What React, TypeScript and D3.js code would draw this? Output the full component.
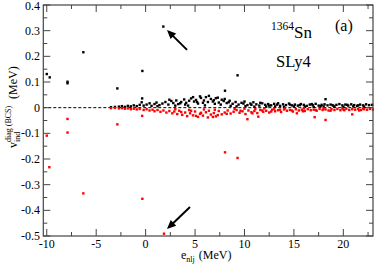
import React from "react";
import * as d3 from "d3";

const W = 374;
const H = 266;

const xTicks = [-10, -5, 0, 5, 10, 15, 20];
const yTicks = [-0.5, -0.4, -0.3, -0.2, -0.1, 0, 0.1, 0.2, 0.3, 0.4];
const xTickLabels = ["-10", "-5", "0", "5", "10", "15", "20"];
const yTickLabels = ["-0.5", "-0.4", "-0.3", "-0.2", "-0.1", "0", "0.1", "0.2", "0.3", "0.4"];

// positive (black) diagonal matrix elements
const blackPoints: [number, number][] = [
  [-10.0, 0.131], [-9.7, 0.118], [-7.9, 0.101], [-7.9, 0.095], [-6.3, 0.216],
  [-2.86, 0.075], [-0.33, 0.143], [1.79, 0.316], [9.3, 0.126], [8.03, 0.066], [18.2, 0.033],
  [-3.5, 0.002], [-3.1, 0.003], [-2.7, 0.004], [-2.4, 0.006], [-2.1, 0.003], [-1.8, 0.007],
  [-1.5, 0.005], [-1.2, 0.009], [-0.9, 0.006], [-0.6, 0.011], [-0.4, 0.021], [-0.35, 0.036],
  [-0.2, 0.008], [0.1, 0.012], [0.4, 0.017], [0.6, 0.007], [0.9, 0.014], [1.1, 0.02],
  [1.4, 0.01], [1.7, 0.016], [2.0, 0.022], [2.3, 0.012], [2.6, 0.026], [2.8, 0.018],
  [3.1, 0.028], [3.3, 0.014], [3.6, 0.022], [3.9, 0.032], [4.1, 0.019], [4.4, 0.027],
  [4.6, 0.036], [4.9, 0.024], [5.1, 0.03], [5.3, 0.016], [5.6, 0.038], [5.9, 0.028],
  [6.1, 0.041], [6.3, 0.022], [6.6, 0.034], [6.9, 0.029], [7.1, 0.037], [7.4, 0.02],
  [7.7, 0.031], [7.9, 0.026], [8.2, 0.018], [8.5, 0.027], [8.8, 0.015], [9.1, 0.022],
  [9.4, 0.012], [9.7, 0.019], [10.0, 0.024], [10.3, 0.01], [10.6, 0.016], [10.9, 0.021],
  [11.2, 0.013], [11.5, 0.008], [11.8, 0.017], [12.1, 0.011], [12.4, 0.014], [12.7, 0.009],
  [13.0, 0.015], [13.3, 0.012], [13.6, 0.007], [13.9, 0.013], [14.2, 0.01], [14.5, 0.016],
  [14.8, 0.009], [15.1, 0.012], [15.4, 0.008], [15.7, 0.014], [16.0, 0.011], [16.3, 0.007],
  [16.6, 0.012], [16.9, 0.01], [17.2, 0.015], [17.5, 0.008], [17.8, 0.011], [18.1, 0.013],
  [18.4, 0.009], [18.7, 0.012], [19.0, 0.007], [19.3, 0.011], [19.6, 0.014], [19.9, 0.009],
  [20.2, 0.012], [20.5, 0.008], [20.8, 0.013], [21.1, 0.01], [21.4, 0.007], [21.7, 0.012],
  [22.0, 0.009], [22.3, 0.013], [22.6, 0.01], [22.9, 0.011],
  [4.0, 0.012], [5.5, 0.044], [6.4, 0.046], [7.0, 0.015], [6.0, 0.009], [3.0, 0.008],
  [4.8, 0.041], [5.8, 0.019], [7.3, 0.039], [8.0, 0.034], [2.4, 0.031], [1.2, 0.006],
  [12.2, 0.004], [13.1, 0.005], [14.0, 0.003], [15.0, 0.005], [16.1, 0.004], [17.0, 0.003],
  [18.0, 0.005], [19.1, 0.004], [20.0, 0.003], [21.0, 0.005], [22.1, 0.004], [10.1, 0.006],
  [11.0, 0.004], [9.2, 0.005], [8.6, 0.007],
  [3.5, 0.017], [4.3, 0.008], [5.2, 0.022], [6.8, 0.024], [7.6, 0.012], [8.4, 0.021],
  [9.9, 0.016], [10.7, 0.011], [11.6, 0.019], [12.5, 0.008], [13.4, 0.017], [14.6, 0.012],
  [15.6, 0.01], [16.8, 0.014], [17.7, 0.006], [18.9, 0.01], [20.4, 0.011], [21.5, 0.009],
];

// negative (red) diagonal matrix elements
const redPoints: [number, number][] = [
  [-10.0, -0.109], [-9.74, -0.232], [-7.9, -0.044], [-7.9, -0.097], [-6.3, -0.334],
  [-2.86, -0.065], [-0.33, -0.355], [1.86, -0.491], [-0.35, -0.032], [8.03, -0.174],
  [9.3, -0.196], [10.3, -0.045], [11.4, -0.035], [15.3, -0.022], [17.1, -0.037],
  [18.2, -0.048], [20.9, -0.026],
  [-3.5, -0.002], [-3.1, -0.001], [-2.7, -0.003], [-2.4, -0.002], [-2.1, -0.004],
  [-1.8, -0.003], [-1.5, -0.006], [-1.2, -0.004], [-0.9, -0.007], [-0.6, -0.005],
  [-0.2, -0.009], [0.1, -0.006], [0.4, -0.011], [0.7, -0.008], [0.9, -0.014], [1.2, -0.009],
  [1.5, -0.016], [1.8, -0.011], [2.1, -0.019], [2.4, -0.013], [2.7, -0.022], [2.9, -0.015],
  [3.2, -0.025], [3.4, -0.012], [3.7, -0.028], [4.0, -0.019], [4.2, -0.033], [4.5, -0.022],
  [4.8, -0.03], [5.0, -0.015], [5.3, -0.036], [5.5, -0.024], [5.8, -0.031], [6.1, -0.018],
  [6.3, -0.038], [6.6, -0.027], [6.9, -0.021], [7.1, -0.034], [7.4, -0.013], [7.7, -0.026],
  [8.0, -0.019], [8.3, -0.011], [8.6, -0.023], [8.9, -0.016], [9.2, -0.009], [9.5, -0.02],
  [9.8, -0.014], [10.1, -0.025], [10.4, -0.011], [10.7, -0.018], [11.0, -0.013],
  [11.3, -0.021], [11.6, -0.009], [11.9, -0.016], [12.2, -0.012], [12.5, -0.019],
  [12.8, -0.008], [13.1, -0.014], [13.4, -0.01], [13.7, -0.017], [14.0, -0.007],
  [14.3, -0.012], [14.6, -0.009], [14.9, -0.015], [15.2, -0.006], [15.5, -0.011],
  [15.8, -0.008], [16.1, -0.013], [16.4, -0.006], [16.7, -0.01], [17.0, -0.008],
  [17.3, -0.012], [17.6, -0.005], [17.9, -0.009], [18.2, -0.007], [18.5, -0.011],
  [18.8, -0.006], [19.1, -0.009], [19.4, -0.005], [19.7, -0.01], [20.0, -0.007],
  [20.3, -0.004], [20.6, -0.009], [20.9, -0.006], [21.2, -0.008], [21.5, -0.005],
  [21.8, -0.009], [22.1, -0.006], [22.4, -0.008], [22.7, -0.005], [23.0, -0.007],
  [3.0, -0.006], [4.4, -0.009], [5.9, -0.007], [7.0, -0.008], [9.0, -0.005], [10.0, -0.004],
  [11.1, -0.005], [12.0, -0.003], [13.0, -0.004], [14.1, -0.003], [16.0, -0.003],
  [18.0, -0.004], [19.9, -0.003], [22.0, -0.003], [6.8, -0.036], [5.1, -0.032],
  [3.6, -0.017], [4.6, -0.012], [5.6, -0.02], [6.4, -0.012], [7.3, -0.029], [8.2, -0.024],
  [9.6, -0.012], [10.8, -0.022], [11.8, -0.011], [12.7, -0.015], [13.6, -0.008],
  [14.8, -0.011], [15.9, -0.014], [17.2, -0.009], [18.7, -0.012], [20.1, -0.01], [21.6, -0.011],
];

// arrow annotations in data coordinates: [tailX, tailY, tipX, tipY]
const arrows: [number, number, number, number][] = [
  [4.19, 0.225, 2.16, 0.303],
  [4.49, -0.387, 2.16, -0.473],
];

const FONT = "Liberation Serif, Times New Roman, DejaVu Serif, serif";
const serif = { fontFamily: FONT };

export default function App() {
  const left = 43.3, right = 373, top = 5, bottom = 236;
  const x = d3.scaleLinear().domain([-10.35, 23.0]).range([left, right]);
  const y = d3.scaleLinear().domain([-0.5, 0.4]).range([bottom, top]);

  const xMinor = d3.range(-10, 23.01, 2.5);
  const yMinor = d3.range(-0.5, 0.401, 0.05);

  const arrowHead = (x1: number, y1: number, x2: number, y2: number) => {
    const ang = Math.atan2(y2 - y1, x2 - x1);
    const len = 9, wid = 4;
    const bx = x2 - len * Math.cos(ang), by = y2 - len * Math.sin(ang);
    const px = -Math.sin(ang) * wid, py = Math.cos(ang) * wid;
    return `M${x2},${y2}L${bx + px},${by + py}L${bx - px},${by - py}Z`;
  };

  return (
    <svg width={W} height={H} style={{ position: "absolute", left: 0, top: 0, background: "#fff", fontFamily: FONT }}>
      {/* zero line */}
      <line x1={left} x2={right} y1={y(0)} y2={y(0)} stroke="#000" strokeWidth={1} strokeDasharray="3,2" />

      {/* points */}
      {blackPoints.map((p, i) => (
        <rect key={"b" + i} x={x(p[0]) - 1.2} y={y(p[1]) - 1.2} width={2.4} height={2.4} fill="#000" />
      ))}
      {redPoints.map((p, i) => (
        <rect key={"r" + i} x={x(p[0]) - 1.2} y={y(p[1]) - 1.2} width={2.4} height={2.4} fill="#ff0000" />
      ))}

      {/* frame */}
      <rect x={left} y={top} width={right - left} height={bottom - top} fill="none" stroke="#444" strokeWidth={1.2} />

      {/* ticks */}
      {xMinor.map((v, i) => {
        const major = Math.abs(v / 5 - Math.round(v / 5)) < 1e-6;
        const l = major ? 7 : 4;
        return (
          <g key={"xt" + i}>
            <line x1={x(v)} x2={x(v)} y1={bottom} y2={bottom - l} stroke="#444" strokeWidth={1} />
            <line x1={x(v)} x2={x(v)} y1={top} y2={top + l} stroke="#444" strokeWidth={1} />
          </g>
        );
      })}
      {yMinor.map((v, i) => {
        const major = Math.abs(v / 0.1 - Math.round(v / 0.1)) < 1e-6;
        const l = major ? 7 : 4;
        return (
          <g key={"yt" + i}>
            <line x1={left} x2={left + l} y1={y(v)} y2={y(v)} stroke="#444" strokeWidth={1} />
            <line x1={right} x2={right - l} y1={y(v)} y2={y(v)} stroke="#444" strokeWidth={1} />
          </g>
        );
      })}

      {/* tick labels */}
      {xTicks.map((v, i) => (
        <text key={"xl" + i} x={x(v)} y={248} fontSize={12} textAnchor="middle" style={serif}>{xTickLabels[i]}</text>
      ))}
      {yTicks.map((v, i) => (
        <text key={"yl" + i} x={40} y={Math.max(y(v) + 4, 10)} fontSize={12} textAnchor="end" style={serif}>{yTickLabels[i]}</text>
      ))}

      {/* x axis label */}
      <text x={181} y={259} fontSize={12} style={serif}>
        e<tspan fontSize={8} dy={3}>nlj</tspan><tspan dy={-3} dx={4}>(MeV)</tspan>
      </text>

      {/* y axis label */}
      <g transform="translate(17,148) rotate(-90)">
        <text x={0} y={0} fontSize={12} style={serif}>v</text>
        <text x={6} y={-6} fontSize={8} style={serif}>diag (BCS)</text>
        <text x={6} y={3} fontSize={8} style={serif}>ind</text>
        <text x={49} y={0} fontSize={12} style={serif}>(MeV)</text>
      </g>

      {/* annotations */}
      <text x={271} y={30} fontSize={11.5} style={serif}>1364</text>
      <text x={294} y={38} fontSize={17} style={serif}>Sn</text>
      <text x={335} y={31} fontSize={16} style={serif}>(a)</text>
      <text x={276} y={67} fontSize={16.5} style={serif}>SLy4</text>

      {arrows.map((a, i) => {
        const x1 = x(a[0]), y1 = y(a[1]), x2 = x(a[2]), y2 = y(a[3]);
        const ang = Math.atan2(y2 - y1, x2 - x1);
        return (
          <g key={"ar" + i}>
            <line x1={x1} y1={y1} x2={x2 - 7 * Math.cos(ang)} y2={y2 - 7 * Math.sin(ang)} stroke="#000" strokeWidth={2} />
            <path d={arrowHead(x1, y1, x2, y2)} fill="#000" />
          </g>
        );
      })}
    </svg>
  );
}
